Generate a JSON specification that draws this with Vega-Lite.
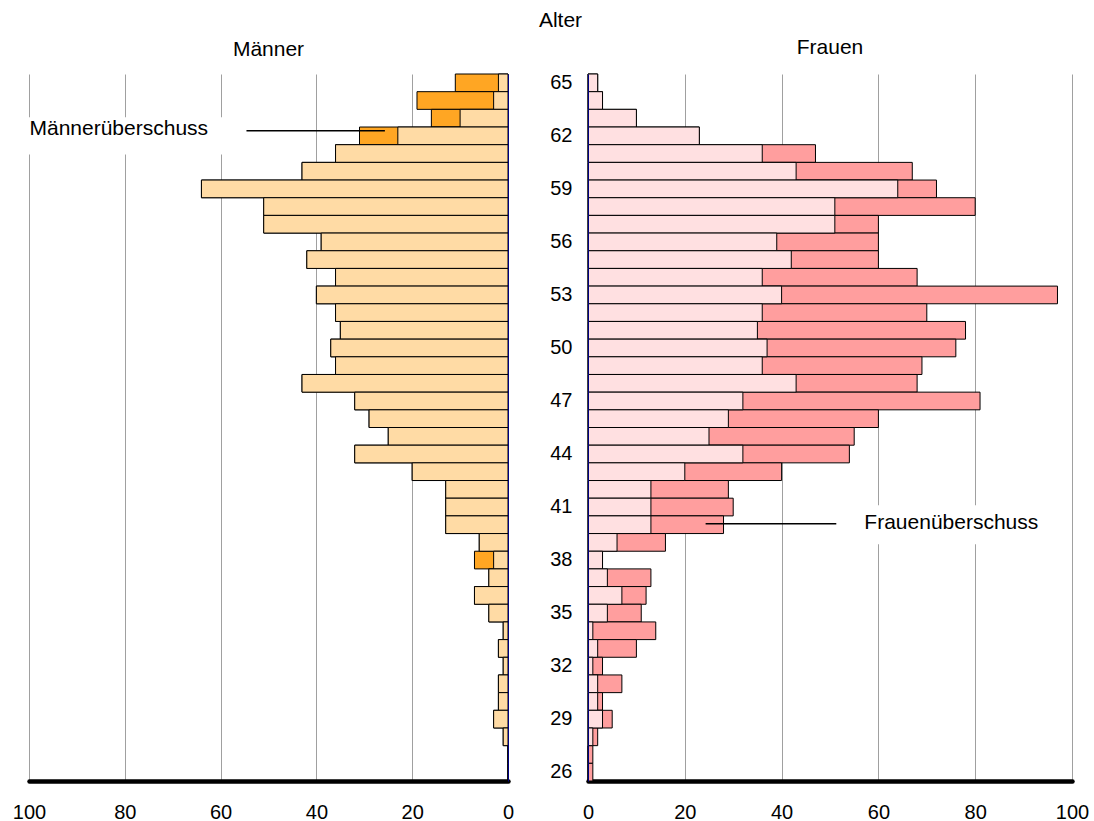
{
  "$schema": "https://vega.github.io/schema/vega-lite/v6.json",
  "padding": {"left": 12, "top": 10, "right": 1, "bottom": 2},
  "title": {"text": "Alter", "anchor": "middle", "dx": 10, "offset": 6},
  "datasets": {
    "pyramide": [
      {"alter": 65, "maenner": 11, "frauen": 2, "gemeinsam": 2},
      {"alter": 64, "maenner": 19, "frauen": 3, "gemeinsam": 3},
      {"alter": 63, "maenner": 16, "frauen": 10, "gemeinsam": 10},
      {"alter": 62, "maenner": 31, "frauen": 23, "gemeinsam": 23},
      {"alter": 61, "maenner": 36, "frauen": 47, "gemeinsam": 36},
      {"alter": 60, "maenner": 43, "frauen": 67, "gemeinsam": 43},
      {"alter": 59, "maenner": 64, "frauen": 72, "gemeinsam": 64},
      {"alter": 58, "maenner": 51, "frauen": 80, "gemeinsam": 51},
      {"alter": 57, "maenner": 51, "frauen": 60, "gemeinsam": 51},
      {"alter": 56, "maenner": 39, "frauen": 60, "gemeinsam": 39},
      {"alter": 55, "maenner": 42, "frauen": 60, "gemeinsam": 42},
      {"alter": 54, "maenner": 36, "frauen": 68, "gemeinsam": 36},
      {"alter": 53, "maenner": 40, "frauen": 97, "gemeinsam": 40},
      {"alter": 52, "maenner": 36, "frauen": 70, "gemeinsam": 36},
      {"alter": 51, "maenner": 35, "frauen": 78, "gemeinsam": 35},
      {"alter": 50, "maenner": 37, "frauen": 76, "gemeinsam": 37},
      {"alter": 49, "maenner": 36, "frauen": 69, "gemeinsam": 36},
      {"alter": 48, "maenner": 43, "frauen": 68, "gemeinsam": 43},
      {"alter": 47, "maenner": 32, "frauen": 81, "gemeinsam": 32},
      {"alter": 46, "maenner": 29, "frauen": 60, "gemeinsam": 29},
      {"alter": 45, "maenner": 25, "frauen": 55, "gemeinsam": 25},
      {"alter": 44, "maenner": 32, "frauen": 54, "gemeinsam": 32},
      {"alter": 43, "maenner": 20, "frauen": 40, "gemeinsam": 20},
      {"alter": 42, "maenner": 13, "frauen": 29, "gemeinsam": 13},
      {"alter": 41, "maenner": 13, "frauen": 30, "gemeinsam": 13},
      {"alter": 40, "maenner": 13, "frauen": 28, "gemeinsam": 13},
      {"alter": 39, "maenner": 6, "frauen": 16, "gemeinsam": 6},
      {"alter": 38, "maenner": 7, "frauen": 3, "gemeinsam": 3},
      {"alter": 37, "maenner": 4, "frauen": 13, "gemeinsam": 4},
      {"alter": 36, "maenner": 7, "frauen": 12, "gemeinsam": 7},
      {"alter": 35, "maenner": 4, "frauen": 11, "gemeinsam": 4},
      {"alter": 34, "maenner": 1, "frauen": 14, "gemeinsam": 1},
      {"alter": 33, "maenner": 2, "frauen": 10, "gemeinsam": 2},
      {"alter": 32, "maenner": 1, "frauen": 3, "gemeinsam": 1},
      {"alter": 31, "maenner": 2, "frauen": 7, "gemeinsam": 2},
      {"alter": 30, "maenner": 2, "frauen": 3, "gemeinsam": 2},
      {"alter": 29, "maenner": 3, "frauen": 5, "gemeinsam": 3},
      {"alter": 28, "maenner": 1, "frauen": 2, "gemeinsam": 1},
      {"alter": 27, "maenner": 0, "frauen": 1, "gemeinsam": 0},
      {"alter": 26, "maenner": 0, "frauen": 1, "gemeinsam": 0}
    ],
    "anmerkung_m": [{"label": "Männerüberschuss"}],
    "anmerkung_f": [{"label": "Frauenüberschuss"}]
  },
  "config": {
    "font": "Liberation Sans",
    "view": {"stroke": null},
    "title": {"fontSize": 21, "fontWeight": "normal", "color": "#000000", "font": "Liberation Sans"},
    "axis": {"labelFont": "Liberation Sans", "labelFontSize": 20, "labelColor": "#000000", "ticks": false, "labelFlush": false, "labelOverlap": false},
    "concat": {"spacing": 35}
  },
  "hconcat": [
    {
      "width": 479,
      "height": 707,
      "title": {"text": "Männer", "anchor": "middle", "frame": "group", "offset": 14},
      "layer": [
        {
          "data": {"name": "anmerkung_m"},
          "mark": {"type": "bar", "fill": "#ffffff", "strokeWidth": 0, "height": {"band": 2.1}},
          "encoding": {
            "x": {"datum": 100.6, "type": "quantitative"},
            "x2": {"datum": 57},
            "y": {"datum": 62, "type": "ordinal"}
          }
        },
        {
          "data": {"name": "pyramide"},
          "mark": {"type": "bar", "fill": "#FFA623", "stroke": "#000000", "strokeWidth": 1},
          "encoding": {
            "x": {
              "field": "maenner", "type": "quantitative",
              "scale": {"domain": [0, 100], "reverse": true, "nice": false},
              "axis": {"values": [0, 20, 40, 60, 80, 100], "grid": true, "gridColor": "#A0A0A0", "gridWidth": 1,
                       "domainColor": "#000000", "domainWidth": 4.5, "domainCap": "round", "labelPadding": 21, "title": null}
            },
            "y": {
              "field": "alter", "type": "ordinal",
              "scale": {"domain": [65,64,63,62,61,60,59,58,57,56,55,54,53,52,51,50,49,48,47,46,45,44,43,42,41,40,39,38,37,36,35,34,33,32,31,30,29,28,27,26], "paddingInner": 0, "paddingOuter": 0},
              "axis": {"orient": "right", "labels": false, "ticks": false, "title": null, "domainColor": "#000080", "domainWidth": 1, "zindex": 1}
            }
          }
        },
        {
          "data": {"name": "pyramide"},
          "mark": {"type": "bar", "fill": "#FFDBA5", "stroke": "#000000", "strokeWidth": 1},
          "encoding": {
            "x": {"field": "gemeinsam", "type": "quantitative"},
            "y": {"field": "alter", "type": "ordinal"}
          }
        },
        {
          "data": {"name": "anmerkung_m"},
          "mark": {"type": "rule", "color": "#000000", "strokeWidth": 1.5, "yOffset": -5},
          "encoding": {
            "x": {"datum": 54.6, "type": "quantitative"},
            "x2": {"datum": 25.7},
            "y": {"datum": 62, "type": "ordinal"}
          }
        },
        {
          "data": {"name": "anmerkung_m"},
          "mark": {"type": "text", "align": "left", "baseline": "middle", "fontSize": 21, "font": "Liberation Sans", "color": "#000000", "dy": -7},
          "encoding": {
            "x": {"datum": 99.9, "type": "quantitative"},
            "y": {"datum": 62, "type": "ordinal"},
            "text": {"field": "label"}
          }
        }
      ]
    },
    {
      "width": 484,
      "height": 707,
      "title": {"text": "Frauen", "anchor": "middle", "frame": "group", "offset": 14},
      "layer": [
        {
          "data": {"name": "anmerkung_f"},
          "mark": {"type": "bar", "fill": "#ffffff", "strokeWidth": 0, "height": {"band": 2.2}},
          "encoding": {
            "x": {"datum": 55, "type": "quantitative"},
            "x2": {"datum": 96},
            "y": {"datum": 40, "type": "ordinal"}
          }
        },
        {
          "data": {"name": "pyramide"},
          "mark": {"type": "bar", "fill": "#FF9E9E", "stroke": "#000000", "strokeWidth": 1},
          "encoding": {
            "x": {
              "field": "frauen", "type": "quantitative",
              "scale": {"domain": [0, 100], "nice": false},
              "axis": {"values": [0, 20, 40, 60, 80, 100], "grid": true, "gridColor": "#A0A0A0", "gridWidth": 1,
                       "domainColor": "#000000", "domainWidth": 4.5, "domainCap": "round", "labelPadding": 21, "title": null}
            },
            "y": {
              "field": "alter", "type": "ordinal",
              "scale": {"domain": [65,64,63,62,61,60,59,58,57,56,55,54,53,52,51,50,49,48,47,46,45,44,43,42,41,40,39,38,37,36,35,34,33,32,31,30,29,28,27,26], "paddingInner": 0, "paddingOuter": 0},
              "axis": {"orient": "left", "values": [65,62,59,56,53,50,47,44,41,38,35,32,29,26], "ticks": false, "labelPadding": 16, "title": null, "domainColor": "#000080", "domainWidth": 1, "zindex": 1}
            }
          }
        },
        {
          "data": {"name": "pyramide"},
          "mark": {"type": "bar", "fill": "#FFE0E1", "stroke": "#000000", "strokeWidth": 1},
          "encoding": {
            "x": {"field": "gemeinsam", "type": "quantitative"},
            "y": {"field": "alter", "type": "ordinal"}
          }
        },
        {
          "data": {"name": "anmerkung_f"},
          "mark": {"type": "rule", "color": "#000000", "strokeWidth": 1.5, "yOffset": -1},
          "encoding": {
            "x": {"datum": 24.3, "type": "quantitative"},
            "x2": {"datum": 51.3},
            "y": {"datum": 40, "type": "ordinal"}
          }
        },
        {
          "data": {"name": "anmerkung_f"},
          "mark": {"type": "text", "align": "left", "baseline": "middle", "fontSize": 21, "font": "Liberation Sans", "color": "#000000", "dy": -2},
          "encoding": {
            "x": {"datum": 57.1, "type": "quantitative"},
            "y": {"datum": 40, "type": "ordinal"},
            "text": {"field": "label"}
          }
        }
      ]
    }
  ]
}
